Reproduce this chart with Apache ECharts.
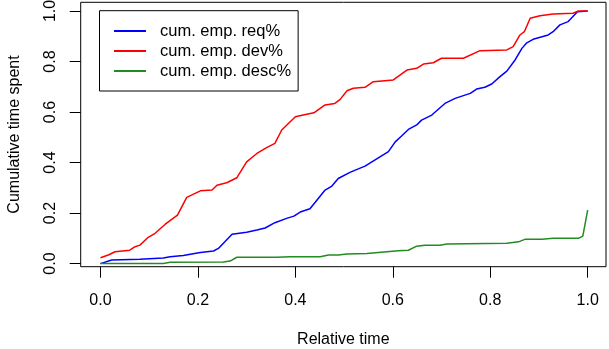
<!DOCTYPE html>
<html>
<head>
<meta charset="utf-8">
<script src="https://cdn.jsdelivr.net/npm/echarts@6/dist/echarts.min.js"></script>
<style>html,body{margin:0;padding:0;background:#fff}#c{width:609px;height:349px}</style>
</head>
<body>
<div id="c"></div>
<script>
var xTicks = [0, 0.2, 0.4, 0.6, 0.8, 1.0];
var yTicks = [0, 0.2, 0.4, 0.6, 0.8, 1.0];
var seriesNames = ['cum. emp. req%', 'cum. emp. dev%', 'cum. emp. desc%'];

var reqX = [0, 0.023, 0.081, 0.129, 0.143, 0.17, 0.205, 0.232, 0.242, 0.27, 0.30, 0.321, 0.338, 0.358, 0.382, 0.397, 0.41, 0.43, 0.447, 0.461, 0.475, 0.488, 0.512, 0.523, 0.543, 0.591, 0.605, 0.618, 0.632, 0.649, 0.659, 0.68, 0.707, 0.728, 0.745, 0.759, 0.772, 0.789, 0.803, 0.82, 0.834, 0.851, 0.865, 0.875, 0.888, 0.919, 0.929, 0.943, 0.96, 0.979, 1.0];
var reqY = [0, 0.014, 0.017, 0.022, 0.027, 0.032, 0.044, 0.05, 0.06, 0.116, 0.124, 0.133, 0.141, 0.162, 0.179, 0.188, 0.204, 0.217, 0.258, 0.291, 0.307, 0.337, 0.361, 0.37, 0.386, 0.443, 0.482, 0.505, 0.531, 0.549, 0.568, 0.588, 0.634, 0.654, 0.665, 0.674, 0.691, 0.698, 0.711, 0.74, 0.762, 0.806, 0.852, 0.874, 0.888, 0.905, 0.918, 0.945, 0.958, 0.997, 1.0];

var devX = [0, 0.016, 0.03, 0.06, 0.071, 0.081, 0.098, 0.112, 0.133, 0.158, 0.177, 0.205, 0.229, 0.239, 0.259, 0.28, 0.30, 0.321, 0.341, 0.358, 0.372, 0.40, 0.416, 0.438, 0.461, 0.481, 0.492, 0.506, 0.519, 0.543, 0.56, 0.601, 0.629, 0.649, 0.663, 0.683, 0.70, 0.745, 0.779, 0.834, 0.847, 0.861, 0.87, 0.882, 0.902, 0.929, 0.97, 0.981, 1.0];
var devY = [0.023, 0.034, 0.047, 0.053, 0.067, 0.073, 0.104, 0.12, 0.156, 0.192, 0.262, 0.288, 0.291, 0.31, 0.32, 0.34, 0.403, 0.436, 0.459, 0.476, 0.529, 0.581, 0.588, 0.597, 0.628, 0.634, 0.65, 0.684, 0.694, 0.698, 0.72, 0.727, 0.766, 0.773, 0.79, 0.795, 0.813, 0.813, 0.843, 0.846, 0.859, 0.905, 0.918, 0.971, 0.981, 0.988, 0.991, 1.0, 1.0];

var descX = [0, 0.129, 0.143, 0.252, 0.266, 0.28, 0.362, 0.389, 0.451, 0.468, 0.488, 0.506, 0.547, 0.588, 0.611, 0.632, 0.649, 0.666, 0.697, 0.711, 0.834, 0.858, 0.871, 0.906, 0.929, 0.981, 0.99, 1.0];
var descY = [0, 0, 0.005, 0.006, 0.01, 0.025, 0.025, 0.027, 0.027, 0.034, 0.034, 0.038, 0.040, 0.047, 0.051, 0.053, 0.069, 0.073, 0.073, 0.078, 0.081, 0.086, 0.096, 0.096, 0.10, 0.10, 0.109, 0.212];

function pairs(xs, ys) { return xs.map(function (x, i) { return [x, ys[i]]; }); }

var FONT = 'Liberation Sans';
var chart = echarts.init(document.getElementById('c'), null, { renderer: 'canvas' });
var axisCommon = {
  type: 'value',
  splitLine: { show: false },
  axisLine: { show: false, onZero: false },
  axisTick: { show: true, inside: false, length: 11, lineStyle: { color: '#000', width: 1 } },
  nameTextStyle: { fontFamily: FONT, fontSize: 16, color: '#000' }
};
chart.setOption({
  animation: false,
  backgroundColor: '#fff',
  grid: { left: 80.7, top: 2.3, width: 525.3, height: 264.4, show: true, borderColor: '#000', borderWidth: 1, backgroundColor: 'transparent', containLabel: false, outerBoundsMode: 'none' },
  xAxis: Object.assign({}, axisCommon, {
    min: -0.0406, max: 1.0376,
    axisTick: Object.assign({}, axisCommon.axisTick, { customValues: xTicks }),
    axisLabel: { customValues: xTicks, formatter: function (v) { return v.toFixed(1); }, fontFamily: FONT, fontSize: 16, color: '#000', margin: 26 },
    name: 'Relative time', nameLocation: 'middle', nameGap: 65
  }),
  yAxis: Object.assign({}, axisCommon, {
    min: -0.0123, max: 1.0344,
    axisTick: Object.assign({}, axisCommon.axisTick, { customValues: yTicks }),
    axisLabel: { customValues: yTicks, rotate: 90, formatter: function (v) { return v.toFixed(1); }, fontFamily: FONT, fontSize: 16, color: '#000', margin: 22 },
    name: 'Cumulative time spent', nameLocation: 'middle', nameGap: 58
  }),
  legend: {
    left: 99.5, top: 10.7, orient: 'vertical',
    data: seriesNames,
    icon: 'rect', itemWidth: 32, itemHeight: 2, itemGap: 0,
    borderColor: '#000', borderWidth: 1, borderRadius: 0,
    padding: [10.3, 7, 10, 14.5],
    textStyle: { fontFamily: FONT, fontSize: 16.5, color: '#000', padding: [0, 0, 0, 9], lineHeight: 20 }
  },
  series: [
    { name: seriesNames[0], type: 'line', data: pairs(reqX, reqY), showSymbol: false, symbol: 'none', lineStyle: { color: '#0000FF', width: 1.5 }, itemStyle: { color: '#0000FF' } },
    { name: seriesNames[1], type: 'line', data: pairs(devX, devY), showSymbol: false, symbol: 'none', lineStyle: { color: '#FF0000', width: 1.5 }, itemStyle: { color: '#FF0000' } },
    { name: seriesNames[2], type: 'line', data: pairs(descX, descY), showSymbol: false, symbol: 'none', lineStyle: { color: '#228B22', width: 1.5 }, itemStyle: { color: '#228B22' } }
  ]
});
</script>
</body>
</html>
